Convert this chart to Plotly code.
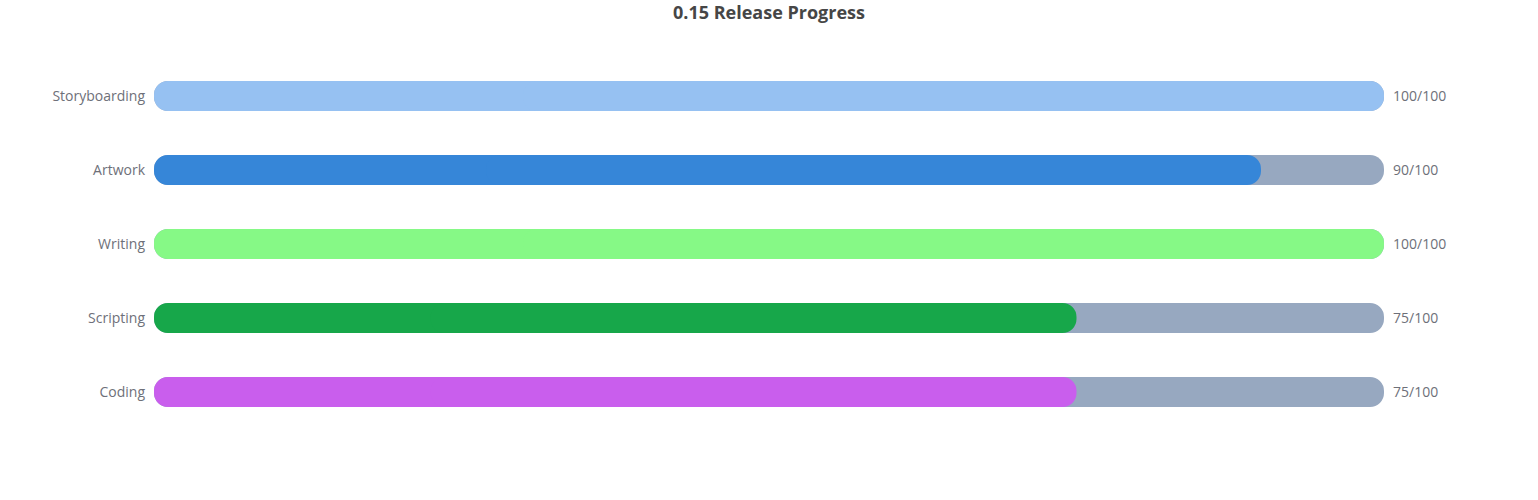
import plotly.graph_objects as go

categories = ["Storyboarding", "Artwork", "Writing", "Scripting", "Coding"]
done = [100, 90, 100, 75, 75]
total = [100, 100, 100, 100, 100]
colors = ["#96c1f2", "#3686d8", "#86f986", "#17a74a", "#c95eed"]
track_color = "#97a8c0"
title = "0.15 Release Progress"

BAR_W = 0.405
R = 15


def pill(values, color, hover=True):
    """Two overlapping bars, one rounded at each end, forming a pill."""
    common = dict(y=categories, orientation="h", width=BAR_W, showlegend=False,
                  marker=dict(color=color, cornerradius=R, line=dict(width=0)))
    # rounded at the right end: spans 0.3v -> v
    right = go.Bar(x=[0.7 * v for v in values], base=[0.3 * v for v in values],
                   customdata=values,
                   hovertemplate="%{y}: %{customdata}<extra></extra>" if hover else None,
                   hoverinfo=None if hover else "skip", **common)
    # rounded at the left end: spans 0.7v -> 0
    left = go.Bar(x=[-0.7 * v for v in values], base=[0.7 * v for v in values],
                  hoverinfo="skip", **common)
    return [left, right]


fig = go.Figure()
for tr in pill(total, track_color, hover=False):
    fig.add_trace(tr)
for tr in pill(done, colors):
    fig.add_trace(tr)

for c, d, t in zip(categories, done, total):
    fig.add_annotation(x=t, y=c, xref="x", yref="y", text=f"{d}/{t}",
                       showarrow=False, xanchor="left", xshift=7, yshift=1,
                       font=dict(size=14, color="#6e7079"))

fig.update_layout(
    width=1538, height=500,
    barmode="overlay",
    plot_bgcolor="white", paper_bgcolor="white",
    margin=dict(l=154, r=154, t=59, b=71, autoexpand=False),
    font=dict(family="Open Sans, Noto Sans, sans-serif", size=14, color="#6e7079"),
    title=dict(text=f"<b>{title}</b>", x=0.5, xref="paper", xanchor="center",
               y=1 - 13 / 500, yref="container", yanchor="middle",
               font=dict(size=18, color="#464646")),
    xaxis=dict(range=[0, 100], visible=False, showgrid=False, zeroline=False),
    yaxis=dict(autorange="reversed", showgrid=False, zeroline=False, showline=False,
               ticks="", ticklabelstandoff=8, tickfont=dict(size=14, color="#6e7079")),
)
fig.write_html("out.html",
               config={"displayModeBar": False},
               post_script="document.body.style.margin='0';document.body.style.overflow='hidden';")
